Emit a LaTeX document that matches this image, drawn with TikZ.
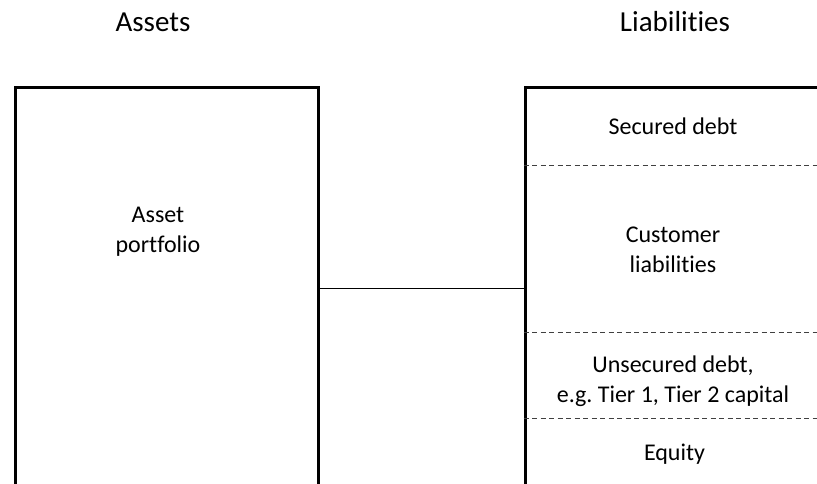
\documentclass[tikz,border=0pt]{standalone}
\usepackage{fontspec}
\setmainfont{Carlito}[Ligatures=CommonOff]
\usepackage{tikz}
\usetikzlibrary{positioning}
\frenchspacing

\begin{document}
\begin{tikzpicture}[x=1pt, y=-1pt,
    bsbox/.style={draw, line width=3pt, inner sep=0pt, anchor=north west},
    divider/.style={draw=black!75, line width=0.9pt, dash pattern=on 5pt off 3.5pt},
    link/.style={draw, line width=1.3pt},
    heading/.style={font=\fontsize{29}{35}\selectfont, anchor=base},
    entry/.style={font=\fontsize{24}{30}\selectfont, align=center}]

        % Frame of the picture
        \clip (0,0) rectangle (817,484);

        % Headings
        \node[heading] (assetshead) at (153,32) {Assets};
        \node[heading] (liabhead) at (675,32) {Liabilities};

        % Boxes
        \node[bsbox, minimum width=303.5pt, minimum height=401pt] (assetbox) at (13.5,86.5) {};
        \node[bsbox, minimum width=299pt, minimum height=401pt] (liabbox) at (523.5,86.5) {};

        % Dashed dividers on the liabilities side
        \foreach \y in {165,332,418}
            \draw[divider] (523.5,\y) -- (817,\y);

        % Texts
        \node[entry] (portfolio) at (158,232) {Asset\\portfolio};
        \node[entry, anchor=base] (secured) at (673,135) {Secured debt};
        \node[entry] (customer) at (673,250) {Customer\\liabilities};
        \node[entry] (unsecured) at (673,381) {Unsecured debt,\\e.g. Tier 1, Tier 2 capital};
        \node[entry, anchor=base] (equity) at (674.5,460) {Equity};

        % Link between the two sides
        \draw[link] (assetbox.east) -- (liabbox.west);
\end{tikzpicture}
\end{document}
